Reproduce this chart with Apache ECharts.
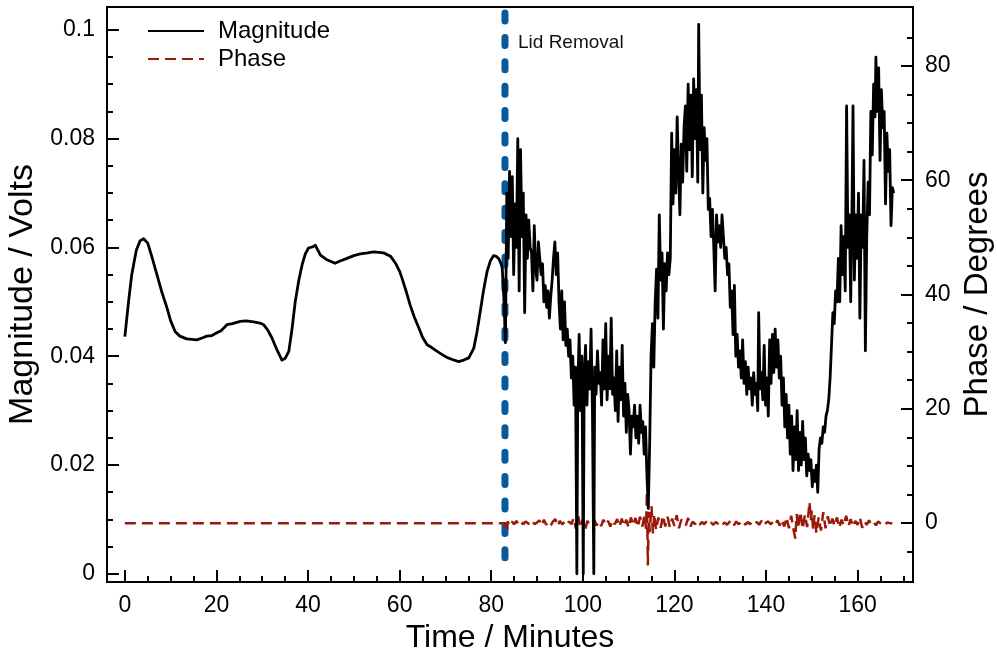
<!DOCTYPE html>
<html>
<head>
<meta charset="utf-8">
<script src="https://cdn.jsdelivr.net/npm/echarts@6/dist/echarts.min.js"></script>
<style>
  html, body { margin: 0; padding: 0; background: #fff; }
  #chart { width: 997px; height: 658px; }
</style>
</head>
<body>
<div id="chart"></div>
<script>
// magnitude (volts) against time (minutes)
var magTime = [
  0, 0.8, 1.5, 2.5, 3.3, 4.1, 5.0, 6.0, 7.0, 8.0, 9.2, 10.0, 11.0, 12.0, 13.5, 15.7, 17.0, 17.9, 19.0, 20.1,
  21.0, 22.3, 23.5, 25.2, 26.5, 28.1, 29.5, 30.3, 31.2, 32.1, 33.2, 34.3, 35.0, 35.8, 36.5, 37.2, 38.0, 38.7, 39.4, 40.1,
  41.0, 41.6, 42.2, 42.7, 44.0, 45.9, 47.0, 48.5, 50.0, 51.4, 53.0, 54.3, 56.5, 58.0, 59.1, 60.0, 60.5, 61.4, 62.3, 63.2,
  64.2, 65.0, 66.0, 67.0, 68.2, 69.3, 70.3, 71.5, 72.9, 74.0, 75.1, 76.2, 76.9, 77.6, 78.3, 79.1, 79.8, 80.5, 81.0, 81.6,
  82.0, 82.4, 82.8, 83.1, 83.4, 83.7, 84.0, 84.3, 84.6, 84.9, 85.2, 85.5, 85.8, 86.1, 86.4, 86.7, 87.0, 87.3, 87.6, 87.9,
  88.2, 88.5, 88.8, 89.1, 89.4, 89.7, 90.0, 90.3, 90.6, 90.9, 91.2, 91.5, 91.8, 92.1, 92.4, 92.7, 93.0, 93.3, 93.6, 93.9,
  94.2, 94.5, 94.8, 95.1, 95.4, 95.7, 96.0, 96.3, 96.6, 96.9, 97.2, 97.5, 97.8, 98.1, 98.4, 98.7, 98.9, 99.2, 99.5, 99.8,
  100.1, 100.3, 100.6, 100.9, 101.2, 101.5, 101.8, 102.1, 102.4, 102.6, 102.9, 103.2, 103.5, 103.8, 104.1, 104.4, 104.7, 105.0, 105.3, 105.6,
  105.9, 106.2, 106.5, 106.8, 107.1, 107.4, 107.7, 108.0, 108.3, 108.6, 108.9, 109.2, 109.5, 109.8, 110.1, 110.4, 110.7, 111.0, 111.3, 111.6,
  111.9, 112.2, 112.5, 112.8, 113.1, 113.4, 113.7, 114.0, 114.3, 114.6, 114.9, 115.2, 115.5, 115.8, 116.1, 116.4, 116.7, 117.0, 117.3, 117.6,
  117.9, 118.2, 118.5, 118.8, 119.1, 119.4, 119.7, 120.0, 120.3, 120.6, 120.9, 121.2, 121.5, 121.8, 122.1, 122.4, 122.7, 123.0, 123.3, 123.6,
  123.9, 124.2, 124.5, 124.8, 125.1, 125.3, 125.6, 125.9, 126.2, 126.5, 126.8, 127.1, 127.4, 127.7, 128.0, 128.3, 128.6, 128.9, 129.2, 129.5,
  129.8, 130.1, 130.4, 130.7, 131.0, 131.3, 131.6, 131.9, 132.2, 132.5, 132.8, 133.1, 133.4, 133.7, 134.0, 134.3, 134.6, 134.9, 135.2, 135.5,
  135.8, 136.1, 136.4, 136.7, 137.0, 137.3, 137.6, 137.9, 138.2, 138.4, 138.7, 139.0, 139.3, 139.6, 139.9, 140.2, 140.5, 140.8, 141.1, 141.4,
  141.7, 142.0, 142.3, 142.6, 142.9, 143.2, 143.5, 143.8, 144.1, 144.4, 144.7, 145.0, 145.3, 145.6, 145.9, 146.2, 146.5, 146.8, 147.1, 147.4,
  147.7, 148.0, 148.3, 148.6, 148.9, 149.2, 149.5, 149.8, 150.1, 150.4, 150.7, 151.0, 151.3, 151.6, 151.9, 152.2, 152.5, 152.8, 153.1, 153.4,
  153.7, 154.0, 154.3, 154.6, 154.9, 155.2, 155.5, 155.8, 156.1, 156.4, 156.7, 157.0, 157.3, 157.6, 157.9, 158.2, 158.5, 158.8, 159.0, 159.3,
  159.6, 159.9, 160.2, 160.5, 160.8, 161.1, 161.4, 161.7, 162.0, 162.3, 162.6, 162.9, 163.2, 163.5, 163.8, 164.0, 164.3, 164.6, 164.9, 165.2,
  165.5, 165.8, 166.1, 166.4, 166.7, 167.0, 167.3, 167.6, 167.9
];
var magValue = [
  0.0436, 0.0500, 0.0550, 0.0595, 0.0612, 0.0616, 0.0608, 0.0580, 0.0550, 0.0520, 0.0489, 0.0465, 0.0445, 0.0437, 0.0432, 0.0430, 0.0434, 0.0437, 0.0438, 0.0443,
  0.0447, 0.0458, 0.0460, 0.0464, 0.0465, 0.0463, 0.0461, 0.0458, 0.0448, 0.0434, 0.0412, 0.0393, 0.0396, 0.0409, 0.0450, 0.0500, 0.0540, 0.0568, 0.0588, 0.0599,
  0.0601, 0.0604, 0.0594, 0.0586, 0.0578, 0.0571, 0.0575, 0.0580, 0.0585, 0.0588, 0.0590, 0.0592, 0.0590, 0.0584, 0.0571, 0.0556, 0.0544, 0.0520, 0.0494, 0.0472,
  0.0452, 0.0435, 0.0421, 0.0416, 0.0409, 0.0403, 0.0398, 0.0394, 0.0390, 0.0393, 0.0397, 0.0415, 0.0445, 0.0482, 0.0520, 0.0556, 0.0575, 0.0585, 0.0584, 0.0580,
  0.0573, 0.0563, 0.0500, 0.0425, 0.0700, 0.0580, 0.0740, 0.0620, 0.0730, 0.0550, 0.0680, 0.0600, 0.0800, 0.0520, 0.0780, 0.0620, 0.0700, 0.0480, 0.0660, 0.0580,
  0.0650, 0.0600, 0.0590, 0.0520, 0.0640, 0.0560, 0.0540, 0.0610, 0.0580, 0.0550, 0.0570, 0.0500, 0.0530, 0.0490, 0.0520, 0.0470, 0.0510, 0.0540, 0.0580, 0.0610,
  0.0550, 0.0590, 0.0500, 0.0450, 0.0520, 0.0430, 0.0500, 0.0420, 0.0450, 0.0400, 0.0430, 0.0360, 0.0400, 0.0310, 0.0380, 0.0000, 0.0340, 0.0440, 0.0300, 0.0400,
  0.0000, 0.0360, 0.0420, 0.0310, 0.0390, 0.0340, 0.0450, 0.0300, 0.0000, 0.0380, 0.0330, 0.0410, 0.0350, 0.0370, 0.0310, 0.0430, 0.0340, 0.0460, 0.0320, 0.0400,
  0.0340, 0.0470, 0.0330, 0.0360, 0.0300, 0.0410, 0.0280, 0.0380, 0.0320, 0.0420, 0.0290, 0.0350, 0.0260, 0.0330, 0.0300, 0.0220, 0.0290, 0.0270, 0.0310, 0.0250,
  0.0290, 0.0240, 0.0310, 0.0260, 0.0280, 0.0220, 0.0270, 0.0180, 0.0120, 0.0240, 0.0400, 0.0460, 0.0380, 0.0500, 0.0560, 0.0470, 0.0660, 0.0540, 0.0590, 0.0450,
  0.0570, 0.0520, 0.0590, 0.0550, 0.0580, 0.0810, 0.0680, 0.0780, 0.0700, 0.0840, 0.0740, 0.0660, 0.0790, 0.0720, 0.0820, 0.0860, 0.0740, 0.0900, 0.0780, 0.0880,
  0.0730, 0.0910, 0.0800, 0.0890, 0.0720, 0.1010, 0.0780, 0.0880, 0.0700, 0.0820, 0.0760, 0.0800, 0.0670, 0.0690, 0.0620, 0.0670, 0.0600, 0.0520, 0.0660, 0.0610,
  0.0640, 0.0600, 0.0660, 0.0620, 0.0580, 0.0600, 0.0550, 0.0570, 0.0490, 0.0520, 0.0440, 0.0530, 0.0400, 0.0440, 0.0380, 0.0410, 0.0360, 0.0430, 0.0350, 0.0390,
  0.0330, 0.0380, 0.0340, 0.0360, 0.0310, 0.0370, 0.0330, 0.0350, 0.0300, 0.0480, 0.0340, 0.0370, 0.0320, 0.0420, 0.0310, 0.0360, 0.0290, 0.0430, 0.0350, 0.0440,
  0.0370, 0.0450, 0.0380, 0.0430, 0.0360, 0.0400, 0.0310, 0.0360, 0.0270, 0.0330, 0.0250, 0.0310, 0.0220, 0.0290, 0.0190, 0.0270, 0.0210, 0.0300, 0.0190, 0.0260,
  0.0200, 0.0280, 0.0210, 0.0250, 0.0180, 0.0220, 0.0190, 0.0210, 0.0160, 0.0190, 0.0170, 0.0200, 0.0150, 0.0230, 0.0250, 0.0240, 0.0270, 0.0260, 0.0290, 0.0300,
  0.0320, 0.0360, 0.0420, 0.0480, 0.0460, 0.0520, 0.0500, 0.0580, 0.0500, 0.0640, 0.0550, 0.0620, 0.0520, 0.0860, 0.0600, 0.0660, 0.0500, 0.0690, 0.0860, 0.0540,
  0.0660, 0.0580, 0.0700, 0.0470, 0.0660, 0.0600, 0.0760, 0.0410, 0.0620, 0.0720, 0.0660, 0.0850, 0.0770, 0.0900, 0.0840, 0.0950, 0.0850, 0.0930, 0.0760, 0.0890,
  0.0820, 0.0850, 0.0680, 0.0810, 0.0740, 0.0780, 0.0640, 0.0710, 0.0700
];

// phase (degrees) against time (minutes)
var phaseTime = [
  0, 83.0, 83.4, 83.6, 84.0, 84.5, 85.0, 85.5, 86.0, 86.5, 87.0, 87.5, 88.0, 88.5, 89.0, 89.5, 90.0, 90.5, 91.0, 91.5,
  92.0, 92.5, 93.0, 93.5, 94.0, 94.5, 95.0, 95.5, 96.0, 96.5, 97.0, 97.5, 98.0, 98.5, 99.0, 99.5, 100.0, 100.5, 101.0, 101.5,
  102.0, 102.5, 103.0, 103.5, 104.0, 104.5, 105.0, 105.5, 106.0, 106.5, 107.0, 107.5, 108.0, 108.5, 109.0, 109.5, 110.0, 110.5, 111.0, 111.5,
  112.0, 112.5, 113.0, 113.5, 113.8, 114.0, 114.2, 114.4, 114.6, 115.0, 115.3, 115.6, 116.0, 116.5, 117.0, 117.5, 118.0, 118.5, 119.0, 119.5,
  120.0, 120.5, 121.0, 121.5, 122.0, 122.5, 123.0, 123.5, 124.0, 124.5, 125.0, 125.5, 126.0, 126.5, 127.0, 127.5, 128.0, 128.5, 129.0, 129.5,
  130.0, 130.5, 131.0, 131.5, 132.0, 132.5, 133.0, 133.5, 134.0, 134.5, 135.0, 135.5, 136.0, 136.5, 137.0, 137.5, 138.0, 138.5, 139.0, 139.5,
  140.0, 140.5, 141.0, 141.5, 142.0, 142.5, 143.0, 143.5, 144.0, 144.5, 145.0, 145.5, 146.0, 146.4, 146.7, 147.0, 147.5, 148.0, 148.5, 149.0,
  149.5, 149.8, 150.0, 150.3, 150.6, 151.0, 151.5, 152.0, 152.5, 153.0, 153.5, 154.0, 154.5, 155.0, 155.5, 156.0, 156.5, 157.0, 157.5, 158.0,
  158.5, 159.0, 159.5, 160.0, 160.5, 161.0, 161.5, 162.0, 162.5, 163.0, 163.5, 164.0, 164.5, 165.0, 165.5, 166.0, 166.5, 167.0, 167.6
];
var phaseValue = [
  0, 0, -1.5, 0.3, -0.4, 0.3, -0.2, 0.4, -0.3, 0.2, -0.2, 0.3, 0, -0.3, 0.3, -0.2, 0.1, 0.5, -0.4, 0.6,
  -0.3, 0.2, -0.4, 0.3, 0.7, -0.5, 0.4, -0.2, 0.2, -0.3, 0.3, -0.2, 0.9, -1.0, 1.2, -0.8, 0.6, -1.2, 0.4, -0.3,
  0.2, 0.6, -0.4, 0.3, -0.5, 0.6, -0.3, 0.4, -0.6, 0.5, -0.2, 0.7, -0.6, 0.8, -0.5, 0.6, -0.8, 1.0, -0.4, 0.9,
  -0.7, 1.1, -0.6, 1.5, -1.0, 5.5, -7.4, 2.0, -1.5, 3.0, -1.8, 1.6, -1.2, 1.0, -0.8, 1.3, -0.6, 1.1, -0.7, 0.8,
  -0.5, 1.4, -0.9, 0.6, 0.2, -0.4, 0.9, -0.6, 0.3, -0.2, 0.3, -0.3, 0.2, -0.2, 0.3, -0.2, 0.1, -0.3, 0.2, -0.1,
  0.3, -0.2, 0.1, -0.3, 0.2, 0.4, -0.4, 0.3, -0.2, 0.1, 0.4, -0.3, 0.2, -0.2, 0.3, -0.1, 0.2, -0.3, 0.4, -0.4,
  0.1, 0.3, -0.2, 0.2, -0.3, 0.5, -0.4, 0.6, -0.6, 1.0, -0.9, 1.3, -1.1, -2.7, 1.6, -0.8, 2.0, -1.0, 1.5, -0.7,
  3.7, 0.5, 2.2, -1.2, 1.4, -1.8, 1.0, -1.3, 1.9, -0.9, 1.2, -0.6, 0.8, -0.5, 1.0, -0.8, 0.6, -0.4, 1.3, -0.5,
  0.7, -0.6, 0.4, -0.3, 1.0, -0.8, 0.3, -0.3, 0.5, -0.2, 0.2, -0.4, 0.3, 0, 0.2, -0.2, 0.1, 0, 0
];

// lid removal marker (drawn top to bottom)
var lidTime = 83.0;
var lidSpan = [0.1031, 0.0026];

// axis ticks
var timeMajor = [0, 20, 40, 60, 80, 100, 120, 140, 160];
var timeMinor = [5, 10, 15, 25, 30, 35, 45, 50, 55, 65, 70, 75, 85, 90, 95, 105, 110, 115, 125, 130, 135, 145, 150, 155, 165, 170];
var magMajor = [0, 0.02, 0.04, 0.06, 0.08, 0.1];
var magMinor = [0.005, 0.01, 0.015, 0.025, 0.03, 0.035, 0.045, 0.05, 0.055, 0.065, 0.07, 0.075, 0.085, 0.09, 0.095];
var phaseMajor = [0, 20, 40, 60, 80];
var phaseMinor = [-5, 5, 10, 15, 25, 30, 35, 45, 50, 55, 65, 70, 75, 85];

var font = '"Liberation Sans", Arial, Helvetica, sans-serif';

function pairs(xs, ys) {
    var out = [];
    for (var i = 0; i < xs.length; i++) {
        out.push([xs[i], ys[i]]);
    }
    return out;
}

var chart = echarts.init(document.getElementById('chart'));

var tickLine = {color: '#000', width: 2};

function majorAxis(pos, min, max, ticks, name, gap, nameSize) {
    return {
        type: 'value',
        position: pos,
        min: min,
        max: max,
        name: name,
        nameLocation: 'middle',
        nameGap: gap,
        nameTextStyle: {fontFamily: font, fontSize: nameSize, color: '#000'},
        splitLine: {show: false},
        axisLine: {show: false, onZero: false},
        axisTick: {show: true, inside: true, length: 12, lineStyle: tickLine, customValues: ticks},
        axisLabel: {show: true, margin: 12, fontFamily: font, fontSize: 23, color: '#000', customValues: ticks}
    };
}

function minorAxis(pos, min, max, ticks) {
    return {
        type: 'value',
        position: pos,
        min: min,
        max: max,
        splitLine: {show: false},
        axisLine: {show: false, onZero: false},
        axisTick: {show: true, inside: true, length: 6, lineStyle: tickLine, customValues: ticks},
        axisLabel: {show: false}
    };
}

var xMin = -3.9, xMax = 172.1;
var magMin = -0.0015, magMax = 0.1042;
var phMin = -10.3, phMax = 90.3;

var xMain = majorAxis('bottom', xMin, xMax, timeMajor, 'Time / Minutes', 36, 32);
var yLeft = majorAxis('left', magMin, magMax, magMajor, 'Magnitude / Volts', 62, 34);
yLeft.nameRotate = 90;
var yRight = majorAxis('right', phMin, phMax, phaseMajor, 'Phase / Degrees', 46, 33);
yRight.nameRotate = 90;

var option = {
    animation: false,
    backgroundColor: '#fff',
    grid: {
        left: 107, right: 84, top: 7, bottom: 76,
        containLabel: false,
        outerBoundsMode: 'none',
        show: true, borderColor: '#000', borderWidth: 2, backgroundColor: 'transparent'
    },
    legend: {
        data: ['Magnitude', 'Phase'],
        orient: 'vertical',
        left: 147,
        top: 19,
        padding: 0,
        itemWidth: 56,
        itemHeight: 14,
        itemGap: 4,
        itemStyle: {opacity: 0},
        textStyle: {fontFamily: font, fontSize: 24, color: '#000', padding: [0, 0, 0, 9]}
    },
    graphic: [{
        type: 'text',
        left: 518,
        top: 33,
        style: {text: 'Lid Removal', fontFamily: font, fontSize: 19, fill: '#111'}
    }],
    xAxis: [xMain, minorAxis('bottom', xMin, xMax, timeMinor)],
    yAxis: [yLeft, yRight, minorAxis('left', magMin, magMax, magMinor), minorAxis('right', phMin, phMax, phaseMinor)],
    series: [
        {
            name: 'Lid Removal',
            type: 'line',
            xAxisIndex: 0,
            yAxisIndex: 0,
            showSymbol: false,
            symbol: 'none',
            data: [[lidTime, lidSpan[0]], [lidTime, lidSpan[1]]],
            lineStyle: {color: '#065a9b', width: 7, type: [8, 16.4], cap: 'round'},
            z: 1
        },
        {
            name: 'Phase',
            type: 'line',
            xAxisIndex: 0,
            yAxisIndex: 1,
            showSymbol: false,
            symbol: 'none',
            data: pairs(phaseTime, phaseValue),
            color: '#9a1a0a',
            lineStyle: {color: '#9a1a0a', width: 2.5, type: [11, 6]},
            z: 2
        },
        {
            name: 'Magnitude',
            type: 'line',
            xAxisIndex: 0,
            yAxisIndex: 0,
            showSymbol: false,
            symbol: 'none',
            data: pairs(magTime, magValue),
            color: '#000',
            lineStyle: {color: '#000', width: 2.8, join: 'round'},
            z: 3
        }
    ]
};
chart.setOption(option);
</script>
</body>
</html>
